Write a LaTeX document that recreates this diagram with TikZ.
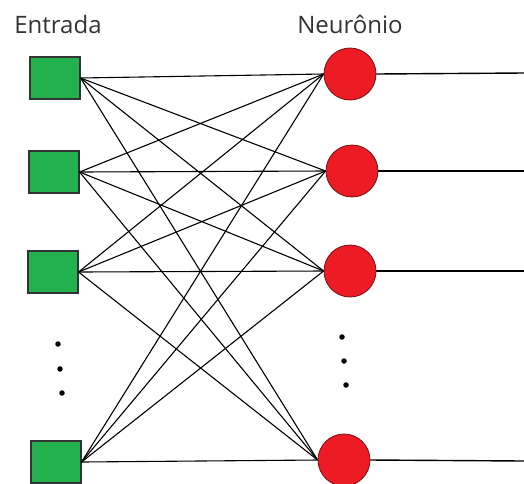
\documentclass[tikz,border=0pt]{standalone}
\usepackage{fontspec}
\setmainfont{Open Sans}
\definecolor{verde}{RGB}{34,177,76}
\definecolor{vermelho}{RGB}{237,28,36}
\begin{document}
\begin{tikzpicture}[x=1pt, y=-1pt,
		entrada/.style={draw=black!80, line width=1.1pt, fill=verde, minimum width=50pt, minimum height=42pt, inner sep=0pt},
		neuronio/.style={circle, draw=vermelho!50!black, line width=0.8pt, fill=vermelho, minimum size=52pt, inner sep=0pt},
		rotulo/.style={anchor=base, text=black!80, font=\fontsize{24}{27}\selectfont},
		ponto/.style={circle, fill=black, minimum size=5.5pt, inner sep=0pt}]
			\useasboundingbox (0,0) rectangle (524,483);
			\node[rotulo] (tE) at (58,33) {Entrada};
			\node[rotulo] (tN) at (350,33) {Neurônio};
			\node[entrada] (e1) at (55,78) {};
			\node[entrada] (e2) at (54,172) {};
			\node[entrada] (e3) at (53,272) {};
			\node[entrada] (e4) at (56,462) {};
			\node[neuronio] (n1) at (350,74) {};
			\node[neuronio] (n2) at (352,171) {};
			\node[neuronio] (n3) at (350,271) {};
			\node[neuronio] (n4) at (344,460) {};
			\foreach \i in {1,...,4}
				\foreach \j in {1,...,4}
					\draw[line width=1.1pt] (e\i.east) -- (n\j.west);
			\foreach \j/\y in {1/73, 2/171, 3/271, 4/461} {
				\coordinate (s\j) at (524,\y);
				\draw[line width=1.4pt] (n\j.east) -- (s\j);
			}
			\node[ponto] (pe1) at (58,344) {};
			\node[ponto] (pe2) at (60,369) {};
			\node[ponto] (pe3) at (62,393) {};
			\node[ponto] (pn1) at (342,337) {};
			\node[ponto] (pn2) at (344,361) {};
			\node[ponto] (pn3) at (346,385) {};
		\end{tikzpicture}
\end{document}
